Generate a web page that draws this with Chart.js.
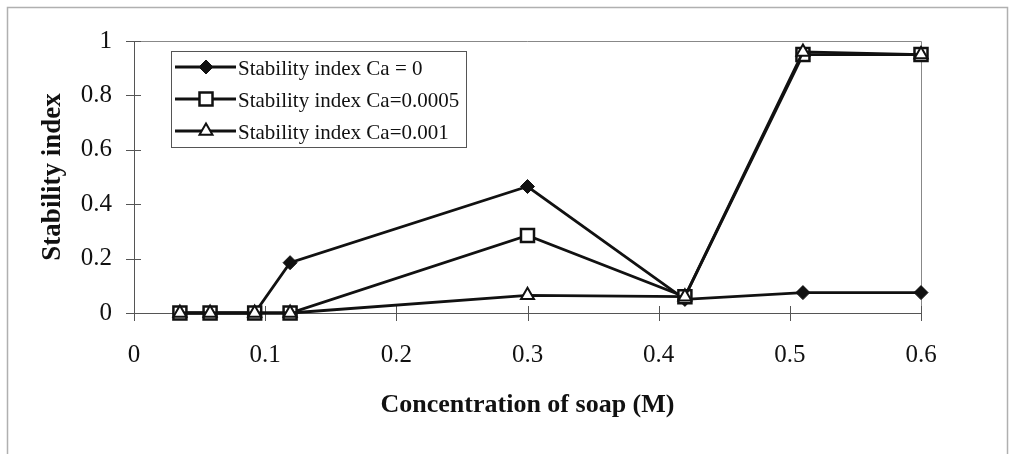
<!DOCTYPE html>
<html lang="en">
<head>
<meta charset="UTF-8">
<title>Stability index vs concentration of soap</title>
<script src="https://cdn.jsdelivr.net/npm/chart.js"></script>
<style>
  html, body { margin: 0; padding: 0; background: #fff; }
  #wrap { width: 1013px; height: 454px; }
</style>
</head>
<body>
<div id="wrap"><canvas id="chart" width="1013" height="454"></canvas></div>
<script>
// concentration of soap (M), same for every series
const soapConc = [0.035, 0.058, 0.092, 0.119, 0.3, 0.42, 0.51, 0.6];
// stability index, one array per calcium level
const stabCa0 = [0, 0, 0, 0.185, 0.465, 0.05, 0.075, 0.075];
const stabCa0005 = [0, 0, 0, 0, 0.285, 0.06, 0.95, 0.95];
const stabCa001 = [0, 0, 0, 0, 0.065, 0.06, 0.96, 0.95];
const seriesNames = ['Stability index Ca = 0', 'Stability index Ca=0.0005', 'Stability index Ca=0.001'];
const xTicks = [0, 0.1, 0.2, 0.3, 0.4, 0.5, 0.6];
const yTicks = [0, 0.2, 0.4, 0.6, 0.8, 1];

const serif = "'Liberation Serif', 'Times New Roman', serif";
const ink = '#111';

function toPoints(ys) {
    return soapConc.map((x, i) => ({ x: x, y: ys[i] }));
}

const datasets = [
    { label: seriesNames[0], data: toPoints(stabCa0), pointStyle: 'rectRot', pointRadius: 7, pointBackgroundColor: ink, pointBorderWidth: 1, order: 3 },
    { label: seriesNames[1], data: toPoints(stabCa0005), pointStyle: 'rect', pointRadius: 9.2, pointBackgroundColor: '#fff', pointBorderWidth: 2.5, order: 2 },
    { label: seriesNames[2], data: toPoints(stabCa001), pointStyle: 'triangle', pointRadius: 7.5, pointBackgroundColor: '#fff', pointBorderWidth: 2, order: 1 }
].map(d => Object.assign({
    borderColor: ink, pointBorderColor: ink, borderWidth: 2.8, tension: 0, clip: false,
    pointHoverRadius: d.pointRadius, fill: false
}, d));

// outer frame + plot box + ticks that cross the axes
const frame = {
    id: 'frame',
    beforeDraw(chart) {
        const ctx = chart.ctx;
        ctx.save();
        ctx.fillStyle = '#fff';
        ctx.fillRect(0, 0, chart.width, chart.height);
        ctx.strokeStyle = '#b0b0b0';
        ctx.lineWidth = 1.5;
        ctx.strokeRect(7.5, 7.5, 1000, 470);
        ctx.restore();
    },
    beforeDatasetsDraw(chart) {
        const ctx = chart.ctx;
        const a = chart.chartArea;
        ctx.save();
        ctx.strokeStyle = '#888';
        ctx.lineWidth = 1;
        ctx.beginPath();
        ctx.moveTo(a.left, a.top + 0.5);
        ctx.lineTo(a.right + 0.5, a.top + 0.5);
        ctx.lineTo(a.right + 0.5, a.bottom);
        ctx.stroke();
        ctx.strokeStyle = '#555';
        ctx.beginPath();
        chart.scales.x.ticks.forEach(t => {
            const px = Math.round(chart.scales.x.getPixelForValue(t.value)) + 0.5;
            ctx.moveTo(px, a.bottom - 7);
            ctx.lineTo(px, a.bottom + 8);
        });
        chart.scales.y.ticks.forEach(t => {
            const py = Math.round(chart.scales.y.getPixelForValue(t.value)) + 0.5;
            ctx.moveTo(a.left - 8, py);
            ctx.lineTo(a.left + 7, py);
        });
        ctx.stroke();
        ctx.restore();
    }
};

// legend box: line sample with marker, then the label
const lineLegend = {
    id: 'lineLegend',
    afterDraw(chart) {
        const ctx = chart.ctx;
        ctx.save();
        ctx.fillStyle = '#fff';
        ctx.fillRect(171, 51, 296, 97);
        ctx.strokeStyle = '#555';
        ctx.lineWidth = 1;
        ctx.strokeRect(171.5, 51.5, 295, 96);
        chart.data.datasets.forEach((ds, i) => {
            const y = 67 + i * 32;
            ctx.strokeStyle = ds.borderColor;
            ctx.lineWidth = ds.borderWidth;
            ctx.beginPath();
            ctx.moveTo(175, y);
            ctx.lineTo(236, y);
            ctx.stroke();
            ctx.fillStyle = ds.pointBackgroundColor;
            ctx.strokeStyle = ds.pointBorderColor;
            ctx.lineWidth = ds.pointBorderWidth;
            Chart.helpers.drawPoint(ctx, {
                pointStyle: ds.pointStyle, radius: ds.pointRadius, rotation: 0, borderWidth: ds.pointBorderWidth
            }, 206, y);
            ctx.fillStyle = ink;
            ctx.font = '21px ' + serif;
            ctx.textAlign = 'left';
            ctx.textBaseline = 'middle';
            ctx.fillText(ds.label, 238, y + 2);
        });
        ctx.restore();
    }
};

new Chart(document.getElementById('chart'), {
    type: 'line',
    data: { datasets: datasets },
    options: {
        responsive: false,
        animation: false,
        layout: { padding: { top: 41, right: 92, left: 0, bottom: 0 } },
        plugins: { legend: { display: false }, tooltip: { enabled: false } },
        scales: {
            x: {
                type: 'linear', min: 0, max: 0.6,
                afterBuildTicks: s => { s.ticks = xTicks.map(v => ({ value: v })); },
                afterFit: s => { s.height = 141; },
                grid: { display: false, drawTicks: false },
                border: { display: true, color: '#555', width: 1 },
                ticks: { font: { family: serif, size: 25 }, color: ink, padding: 27, maxRotation: 0, autoSkip: false, callback: v => String(v) },
                title: { display: true, text: 'Concentration of soap (M)', color: ink, font: { family: serif, size: 26, weight: 'bold' }, padding: { top: 0, bottom: 33 } }
            },
            y: {
                type: 'linear', min: 0, max: 1,
                afterBuildTicks: s => { s.ticks = yTicks.map(v => ({ value: v })); },
                afterFit: s => { s.width = 134; },
                grid: { display: false, drawTicks: false },
                border: { display: true, color: '#555', width: 1 },
                ticks: { font: { family: serif, size: 25 }, color: ink, padding: 22, callback: v => String(v) },
                title: { display: true, text: 'Stability index', color: ink, font: { family: serif, size: 27, weight: 'bold' }, padding: { top: 37, bottom: 0 } }
            }
        }
    },
    plugins: [frame, lineLegend]
});
</script>
</body>
</html>
